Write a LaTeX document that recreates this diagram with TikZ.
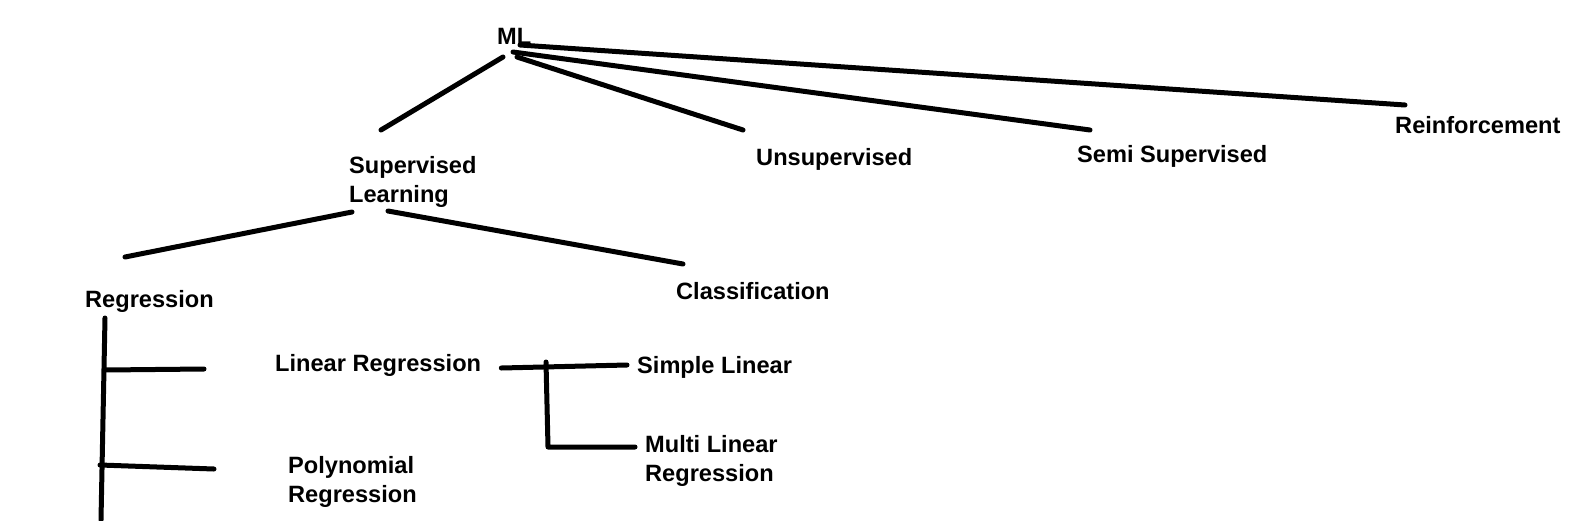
\documentclass[tikz,border=0pt]{standalone}
\usepackage{fontspec}
\setmainfont{Liberation Sans}
\usetikzlibrary{calc}

\tikzset{
 lbl/.style={font=\bfseries\fontsize{23.6}{29}\selectfont, inner sep=0pt, anchor=base west},
 pen/.style={black, line width=5pt, line cap=round, line join=round}
}

\begin{document}
\begin{tikzpicture}[x=1pt,y=-1pt]

\fill[white] (0,0) rectangle (1570,520);
\useasboundingbox (0,0) rectangle (1570,520);

% labels (two-line nodes sit on their last line)
\node[lbl] (ml) at (497,44) {ML};
\node[lbl, align=left] (sup) at (349,202) {Supervised\\Learning};
\node[lbl] (unsup) at (756,165) {Unsupervised};
\node[lbl] (semi) at (1077,162) {Semi Supervised};
\node[lbl] (reinf) at (1395,133) {Reinforcement};
\node[lbl] (reg) at (85,307) {Regression};
\node[lbl] (cls) at (676,299) {Classification};
\node[lbl] (lin) at (275,371) {Linear Regression};
\node[lbl, align=left] (poly) at (288,502) {Polynomial\\Regression};
\node[lbl] (simple) at (637,373) {Simple Linear};
\node[lbl, align=left] (multi) at (645,481) {Multi Linear\\Regression};
\coordinate (regend) at (101,520);

% ML branches
\draw[pen] ([shift={(6,13)}]ml.base west) -- ([shift={(32,-72)}]sup.base west);
\draw[pen] ([shift={(20,13)}]ml.base west) -- ([shift={(-13,-35)}]unsup.base west);
\draw[pen] ([shift={(16,8)}]ml.base west) -- ([shift={(13,-32)}]semi.base west);
\draw[pen] ([shift={(23,1)}]ml.base west) -- ([shift={(10,-28)}]reinf.base west);

% supervised
\draw[pen] ([shift={(3,10)}]sup.base west) -- ([shift={(40,-50)}]reg.base west);
\draw[pen] ([shift={(39,9)}]sup.base west) -- ([shift={(7,-35)}]cls.base west);

% regression
\draw[pen] ([shift={(20,11)}]reg.base west) -- (regend);
\draw[pen] ([shift={(-170,-1)}]lin.base west) -- ([shift={(-71,-2)}]lin.base west);
\draw[pen] ([shift={(-188,-37)}]poly.base west) -- ([shift={(-74,-33)}]poly.base west);

% linear
\draw[pen] ([shift={(20,-3)}]lin.base east) -- ([shift={(-10,-8)}]simple.base west);
\draw[pen] ([shift={(-91,-11)}]simple.base west) -- ([shift={(-97,-34)}]multi.base west)
  -- ([shift={(-10,-34)}]multi.base west);

\end{tikzpicture}
\end{document}
